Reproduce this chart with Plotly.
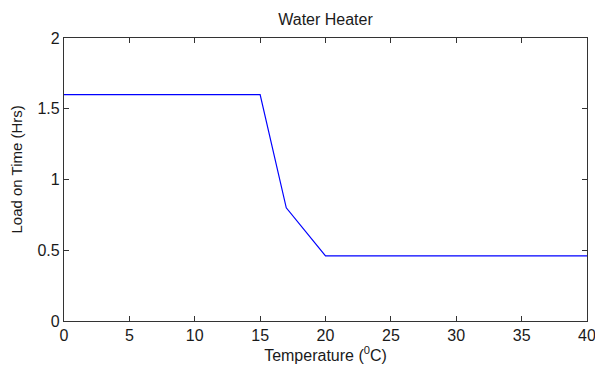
import plotly.graph_objects as go

# Water heater load-on time versus outside temperature
temperature = [0, 15, 17, 20, 40]
load_on_time = [1.6, 1.6, 0.8, 0.46, 0.46]

x_ticks = [0, 5, 10, 15, 20, 25, 30, 35, 40]
y_ticks = [0, 0.5, 1, 1.5, 2]

FONT = "Liberation Sans, Arial"
TEXT_COLOR = "#1a1a1a"

fig = go.Figure()
fig.add_trace(go.Scatter(
    x=temperature, y=load_on_time, mode="lines",
    line=dict(color="#0000ff", width=1.2),
    showlegend=False,
))

axis_common = dict(
    showgrid=False, zeroline=False, showline=True, mirror="ticks",
    linecolor="#333333", linewidth=1.3,
    ticks="inside", ticklen=5, tickcolor="#333333", tickwidth=1,
    tickfont=dict(family=FONT, size=16, color=TEXT_COLOR),
    automargin=False, ticklabeloverflow="allow",
)

fig.update_layout(
    width=595, height=372,
    margin=dict(l=64, r=8, t=38, b=51),
    paper_bgcolor="white", plot_bgcolor="white",
    title=dict(text="Water Heater", x=0.5, xref="paper",
               xanchor="center", y=1 - 19 / 372, yref="container",
               yanchor="middle",
               font=dict(family=FONT, size=16, color=TEXT_COLOR)),
    xaxis=dict(range=[0, 40], tickvals=x_ticks,
               ticktext=[str(v) for v in x_ticks],
               title=dict(text="Temperature (<sup>0</sup>C)", standoff=2,
                          font=dict(family=FONT, size=16, color=TEXT_COLOR)),
               **axis_common),
    yaxis=dict(range=[0, 2], tickvals=y_ticks,
               ticktext=["0", "0.5", "1", "1.5", "2"],
               **axis_common),
)

# Vertical axis label placed as a rotated annotation left of the tick labels
fig.add_annotation(
    text="Load on Time (Hrs)", textangle=-90, showarrow=False,
    xref="paper", yref="paper", x=-0.09, y=0.535,
    xanchor="center", yanchor="middle",
    font=dict(family=FONT, size=15, color=TEXT_COLOR),
)

fig.write_html("out.html")
